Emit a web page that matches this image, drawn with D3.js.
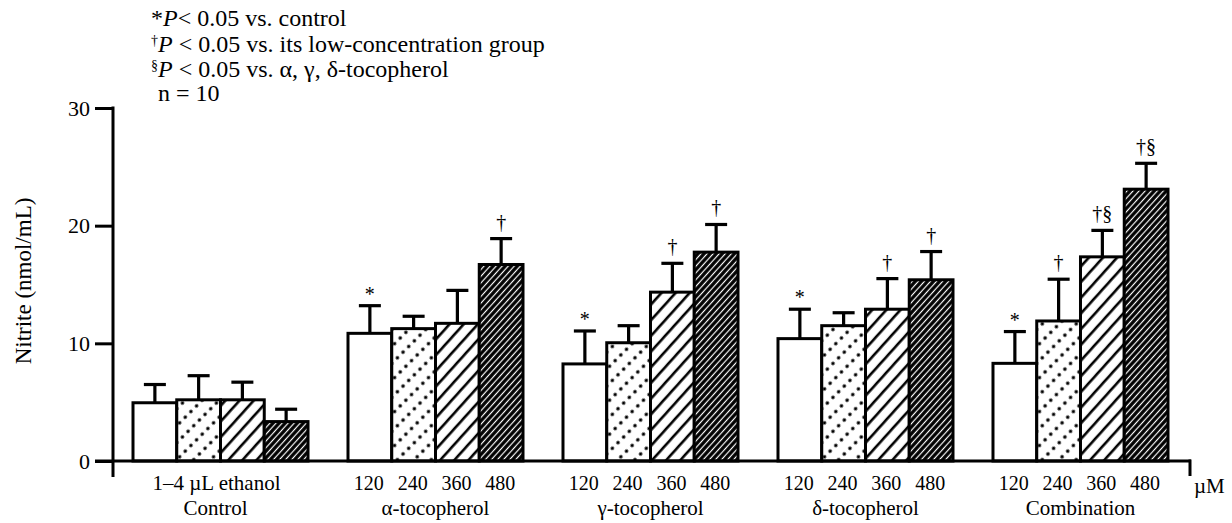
<!DOCTYPE html>
<html>
<head>
<meta charset="utf-8">
<script src="https://cdn.jsdelivr.net/npm/d3@7"></script>
<style>
  body { margin: 0; background: #fff; }
  svg { display: block; font-family: "Liberation Serif", "DejaVu Serif", serif; }
</style>
</head>
<body>
<svg width="1232" height="523"></svg>
<script>
// chart data
const groups = ["Control", "α-tocopherol", "γ-tocopherol", "δ-tocopherol", "Combination"];
const doseLabels = ["120", "240", "360", "480"];
const yTicks = [0, 10, 20, 30];

const meanControl = [4.95, 5.2, 5.2, 3.35];
const meanAlpha = [10.85, 11.25, 11.7, 16.7];
const meanGamma = [8.25, 10.05, 14.35, 17.75];
const meanDelta = [10.4, 11.5, 12.9, 15.4];
const meanCombo = [8.3, 11.9, 17.35, 23.1];

const sdControl = [1.55, 2.05, 1.5, 1.05];
const sdAlpha = [2.35, 1.05, 2.8, 2.2];
const sdGamma = [2.8, 1.45, 2.45, 2.35];
const sdDelta = [2.5, 1.1, 2.6, 2.4];
const sdCombo = [2.7, 3.55, 2.25, 2.2];

const marksControl = ["", "", "", ""];
const marksAlpha = ["*", "", "", "†"];
const marksGamma = ["*", "", "†", "†"];
const marksDelta = ["*", "", "†", "†"];
const marksCombo = ["*", "†", "†§", "†§"];

const means = [meanControl, meanAlpha, meanGamma, meanDelta, meanCombo];
const sds = [sdControl, sdAlpha, sdGamma, sdDelta, sdCombo];
const marks = [marksControl, marksAlpha, marksGamma, marksDelta, marksCombo];

const bars = [];
groups.forEach((g, gi) => {
  means[gi].forEach((m, di) => {
    bars.push({ group: g, dose: di, mean: m, sd: sds[gi][di], mark: marks[gi][di] });
  });
});

const svg = d3.select("svg");
const defs = svg.append("defs");

// dotted diagonal rows
const dots = defs.append("pattern")
  .attr("id", "dots")
  .attr("patternUnits", "userSpaceOnUse")
  .attr("width", 8).attr("height", 12)
  .attr("patternTransform", "rotate(-45)");
dots.append("rect").attr("width", 8).attr("height", 12).attr("fill", "#fff");
dots.append("circle").attr("cx", 4).attr("cy", 6).attr("r", 1.8).attr("fill", "#000");

// wide hatch
const hatch = defs.append("pattern")
  .attr("id", "hatch")
  .attr("patternUnits", "userSpaceOnUse")
  .attr("width", 10).attr("height", 10.5)
  .attr("patternTransform", "rotate(-48)");
hatch.append("rect").attr("width", 10).attr("height", 10.5).attr("fill", "#fff");
hatch.append("line").attr("x1", 0).attr("x2", 10).attr("y1", 5).attr("y2", 5)
  .attr("stroke", "#000").attr("stroke-width", 2.6);

// dense hatch: dark with thin white lines
const dense = defs.append("pattern")
  .attr("id", "dense")
  .attr("patternUnits", "userSpaceOnUse")
  .attr("width", 10).attr("height", 4.5)
  .attr("patternTransform", "rotate(-48)");
dense.append("rect").attr("width", 10).attr("height", 4.5).attr("fill", "#000");
dense.append("line").attr("x1", 0).attr("x2", 10).attr("y1", 2.25).attr("y2", 2.25)
  .attr("stroke", "#fff").attr("stroke-width", 1.2);

const fills = ["#fff", "url(#dots)", "url(#hatch)", "url(#dense)"];

const y = d3.scaleLinear().domain([0, 30]).range([461, 108]);

const x0 = d3.scaleBand()
  .domain(groups)
  .range([133, 1168])
  .paddingInner(0.186)
  .paddingOuter(0);

const x1 = d3.scaleBand()
  .domain(d3.range(4))
  .range([0, x0.bandwidth()]);

const barMid = (d) => x0(d.group) + x1(d.dose) + x1.bandwidth() / 2;

// bars
svg.append("g").attr("class", "bars")
  .selectAll("rect")
  .data(bars)
  .join("rect")
  .attr("x", (d) => x0(d.group) + x1(d.dose))
  .attr("y", (d) => y(d.mean))
  .attr("width", x1.bandwidth())
  .attr("height", (d) => y(0) - y(d.mean))
  .attr("fill", (d) => fills[d.dose])
  .attr("stroke", "#000")
  .attr("stroke-width", 3);

// error bars (upper only)
const errG = svg.append("g").attr("class", "errors").attr("stroke", "#000").attr("stroke-width", 3.2);
errG.selectAll("line.stem")
  .data(bars)
  .join("line")
  .attr("class", "stem")
  .attr("x1", barMid)
  .attr("x2", barMid)
  .attr("y1", (d) => y(d.mean))
  .attr("y2", (d) => y(d.mean + d.sd));
errG.selectAll("line.cap")
  .data(bars)
  .join("line")
  .attr("class", "cap")
  .attr("x1", (d) => barMid(d) - 11)
  .attr("x2", (d) => barMid(d) + 11)
  .attr("y1", (d) => y(d.mean + d.sd))
  .attr("y2", (d) => y(d.mean + d.sd));

// significance marks
svg.append("g").attr("class", "marks")
  .selectAll("text")
  .data(bars.filter((d) => d.mark))
  .join("text")
  .attr("x", barMid)
  .attr("y", (d) => y(d.mean + d.sd) - (d.mark === "*" ? 5 : 10))
  .attr("text-anchor", "middle")
  .attr("font-size", 20)
  .text((d) => d.mark);

// y axis
const yAxis = svg.append("g")
  .attr("transform", "translate(113,0)")
  .call(d3.axisLeft(y).tickValues(yTicks).tickSize(18).tickPadding(5));
yAxis.select(".domain").remove();
yAxis.selectAll(".tick line").attr("stroke-width", 3);
yAxis.selectAll(".tick text")
  .attr("font-size", 22)
  .attr("font-family", "Liberation Serif")
  .attr("fill", "#000");

svg.append("line")
  .attr("x1", 113).attr("x2", 113)
  .attr("y1", y(30) - 1.5).attr("y2", 477)
  .attr("stroke", "#000").attr("stroke-width", 3);

// x axis baseline and end tick
svg.append("line")
  .attr("x1", 95).attr("x2", 1191)
  .attr("y1", y(0)).attr("y2", y(0))
  .attr("stroke", "#000").attr("stroke-width", 3);
svg.append("line")
  .attr("x1", 1190).attr("x2", 1190)
  .attr("y1", y(0) - 1.5).attr("y2", 476)
  .attr("stroke", "#000").attr("stroke-width", 3);

// dose labels
const labG = svg.append("g").attr("font-size", 21).attr("text-anchor", "middle");
labG.selectAll("text.dose")
  .data(bars.filter((d) => d.group !== "Control"))
  .join("text")
  .attr("class", "dose")
  .attr("font-size", 20)
  .attr("x", (d) => barMid(d) - 1)
  .attr("y", 490)
  .text((d) => doseLabels[d.dose]);

labG.selectAll("text.group")
  .data(groups)
  .join("text")
  .attr("class", "group")
  .attr("x", (d) => x0(d) + x0.bandwidth() / 2 - (d === "Control" ? 5 : 0))
  .attr("y", 515)
  .text((d) => d);

labG.append("text")
  .attr("x", x0("Control") + x0.bandwidth() / 2 - 4)
  .attr("y", 490)
  .text("1–4 µL ethanol");

svg.append("text")
  .attr("x", 1194).attr("y", 493)
  .attr("font-size", 21)
  .text("µM");

// y title
svg.append("text")
  .attr("transform", "translate(31,281) rotate(-90)")
  .attr("text-anchor", "middle")
  .attr("font-size", 23)
  .text("Nitrite (nmol/mL)");

// legend
const leg = svg.append("g").attr("font-size", 24);
const l1 = leg.append("text").attr("x", 151).attr("y", 26);
l1.append("tspan").text("*");
l1.append("tspan").attr("font-style", "italic").text("P");
l1.append("tspan").text("< 0.05 vs. control");

const l2 = leg.append("text").attr("x", 151).attr("y", 52);
l2.append("tspan").attr("font-size", 14).attr("dy", -7).text("†");
l2.append("tspan").attr("font-style", "italic").attr("dy", 7).text("P");
l2.append("tspan").text(" < 0.05 vs. its low-concentration group");

const l3 = leg.append("text").attr("x", 151).attr("y", 77);
l3.append("tspan").attr("font-size", 14).attr("dy", -7).text("§");
l3.append("tspan").attr("font-style", "italic").attr("dy", 7).text("P");
l3.append("tspan").text(" < 0.05 vs. α, γ, δ-tocopherol");

leg.append("text").attr("x", 158).attr("y", 101).text("n = 10");
</script>
</body>
</html>
